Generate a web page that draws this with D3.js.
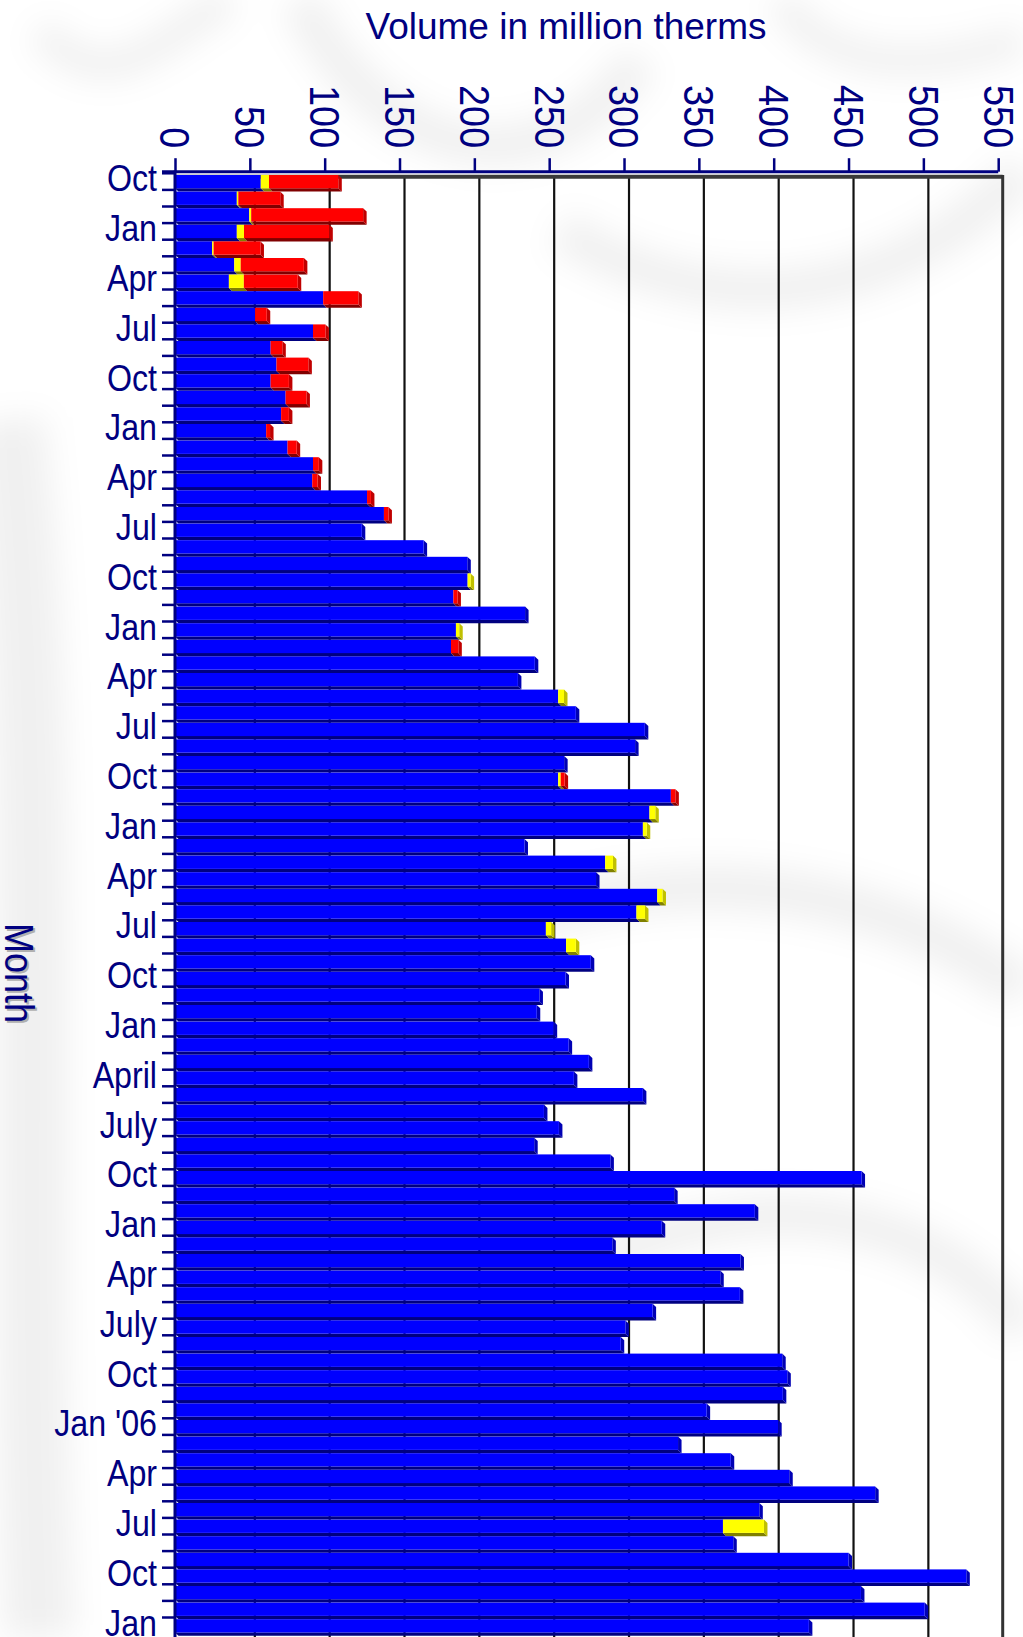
<!DOCTYPE html>
<html>
<head>
<meta charset="utf-8">
<script src="https://cdn.jsdelivr.net/npm/d3@7"></script>
<style>
  body { margin: 0; background: #fff; }
  svg { display: block; }
  text { font-family: "Liberation Sans", Arial, sans-serif; }
</style>
</head>
<body>
<div id="chart"></div>
<script>
// one label every third month, Oct 1999 .. Jan 2007
const monthLabels = ['Oct', 'Jan', 'Apr', 'Jul', 'Oct', 'Jan', 'Apr', 'Jul', 'Oct', 'Jan',
  'Apr', 'Jul', 'Oct', 'Jan', 'Apr', 'Jul', 'Oct', 'Jan', 'April', 'July',
  'Oct', 'Jan', 'Apr', 'July', 'Oct', "Jan '06", 'Apr', 'Jul', 'Oct', 'Jan']

const valueTicks = [0, 50, 100, 150, 200, 250, 300, 350, 400, 450, 500, 550]

// million therms per month
const blue = [57.3, 41.3, 49.6, 41.3, 24.8, 39.6, 36, 99, 53.5, 92.2,
  63.9, 67.8, 63.9, 73.9, 70.9, 60.9, 75.2, 92.2, 91.7, 128.3,
  139.6, 124.8, 166.1, 195.3, 195.5, 186, 233.9, 187.7, 184.4, 240.4,
  229.1, 256, 267.8, 313.9, 307.4, 260, 256, 331.3, 317, 312.6,
  233.5, 287.4, 281.3, 322.2, 308.3, 247.8, 261.3, 277.8, 260.9, 243.5,
  241.7, 253, 263, 276.5, 266.5, 312.6, 246.5, 256.5, 240, 290.9,
  458.7, 333.5, 387.4, 325.2, 292.2, 377.8, 364.3, 377.4, 319.1, 300.9,
  297.8, 405.7, 409.1, 406.1, 355.2, 403, 336.1, 371.3, 410.4, 467.8,
  390.4, 366.1, 373, 450, 528.7, 458.3, 500.9, 423.5]

const yellow = [5.5, 1, 1.3, 4.8, 1, 4.3, 10, 0, 0, 0,
  0, 0, 0, 0, 0, 0, 0, 0, 0, 0,
  0, 0, 0, 0, 2, 0, 0, 2.2, 0, 0,
  0, 3.9, 0, 0, 0, 0, 1.7, 0, 3.9, 2.6,
  0, 5.2, 0, 3.5, 5.7, 3.5, 6.5, 0, 0, 0,
  0, 0, 0, 0, 0, 0, 0, 0, 0, 0,
  0, 0, 0, 0, 0, 0, 0, 0, 0, 0,
  0, 0, 0, 0, 0, 0, 0, 0, 0, 0,
  0, 27.4, 0, 0, 0, 0, 0, 0]

const red = [46.3, 28, 74.8, 57, 31.3, 42.2, 36, 23.5, 7.8, 8.3,
  7.8, 21.3, 12.2, 13.9, 5.2, 2.6, 6.1, 3.9, 3.5, 2.6,
  3, 0, 0, 0, 0, 2.7, 0, 0, 4.9, 0,
  0, 0, 0, 0, 0, 0, 2.6, 3, 0, 0,
  0, 0, 0, 0, 0, 0, 0, 0, 0, 0,
  0, 0, 0, 0, 0, 0, 0, 0, 0, 0,
  0, 0, 0, 0, 0, 0, 0, 0, 0, 0,
  0, 0, 0, 0, 0, 0, 0, 0, 0, 0,
  0, 0, 0, 0, 0, 0, 0, 0]

const W = 1023
const H = 1637
const navy = '#000080'
const dx = 3.5
const dy = 3.3

const months = d3.timeMonth.range(new Date(1999, 9, 1), new Date(2007, 1, 1))
const rows = months.map((m, i) => ({ month: m, blue: blue[i], yellow: yellow[i], red: red[i] }))
const keys = ['blue', 'yellow', 'red']
// front, bottom, side
const shades = {
  blue: ['#0000ff', '#000080', '#0000b4'],
  yellow: ['#ffff00', '#808000', '#c0c000'],
  red: ['#ff0000', '#800000', '#c00000']
}

const x = d3.scaleLinear().domain([0, 550]).range([175, 998.2])
const y = d3.scaleBand().domain(months).range([173.3, 173.3 + months.length * 16.6])
const bw = y.bandwidth()

const svg = d3.select('#chart').append('svg')
  .attr('width', W)
  .attr('height', H)

// soft grey swirl background
const defs = svg.append('defs')
defs.append('filter').attr('id', 'blur')
  .attr('x', '-50%').attr('y', '-50%').attr('width', '200%').attr('height', '200%')
  .append('feGaussianBlur').attr('stdDeviation', 16)

svg.append('rect').attr('width', W).attr('height', H).attr('fill', '#fff')
const swirls = [
  ['M 10 420 C 50 800 20 1200 40 1637', 70],
  ['M 300 0 C 380 160 540 200 640 60', 40],
  ['M 560 230 C 720 330 900 300 1023 170', 40],
  ['M 420 960 C 640 850 860 870 1023 990', 45],
  ['M 600 1260 C 790 1170 950 1230 1023 1330', 40],
  ['M 40 30 C 110 110 170 30 230 0', 30],
  ['M 780 0 C 820 60 900 80 1023 40', 30]
]
svg.append('g').attr('filter', 'url(#blur)')
  .selectAll('path').data(swirls).enter().append('path')
    .attr('d', d => d[0])
    .attr('fill', 'none')
    .attr('stroke', '#000')
    .attr('stroke-opacity', 0.06)
    .attr('stroke-width', d => d[1])

// back wall grid lines
const wall = svg.append('g')
wall.selectAll('line').data(valueTicks.filter(v => v > 0 && v < 550)).enter().append('line')
  .attr('x1', d => x(d) + 5).attr('x2', d => x(d) + 5)
  .attr('y1', 176.7).attr('y2', H)
  .attr('stroke', '#111')
  .attr('stroke-width', 2.2)
wall.append('line')
  .attr('x1', x(0)).attr('x2', x(550) + 4.5)
  .attr('y1', 176.7).attr('y2', 176.7)
  .attr('stroke', '#3a3a3a').attr('stroke-width', 4)
wall.append('line')
  .attr('x1', x(550) + 4.5).attr('x2', x(550) + 4.5)
  .attr('y1', 175).attr('y2', H)
  .attr('stroke', '#333').attr('stroke-width', 3)

const series = d3.stack().keys(keys)(rows)

// depth faces first, then the fronts on top
const depth = svg.append('g')
const fronts = svg.append('g')

series.forEach(s => {
  const col = shades[s.key]
  const segs = s.filter(d => d[1] > d[0])

  depth.selectAll(null).data(segs).enter().append('polygon')
    .attr('fill', col[1])
    .attr('points', d => {
      const x0 = x(d[0])
      const x1 = x(d[1])
      const yb = y(d.data.month) + 1.7 + bw - dy
      return [[x0, yb], [x1, yb], [x1 + dx, yb + dy], [x0 + dx, yb + dy]].join(' ')
    })

  // side face only where this segment is the outermost one
  const last = segs.filter(d => {
    const idx = keys.indexOf(s.key)
    return keys.slice(idx + 1).every(k => d.data[k] === 0)
  })
  depth.selectAll(null).data(last).enter().append('polygon')
    .attr('fill', col[2])
    .attr('points', d => {
      const x1 = x(d[1])
      const yt = y(d.data.month) + 1.7
      const yb = yt + bw - dy
      return [[x1, yt], [x1 + dx, yt + dy], [x1 + dx, yb + dy], [x1, yb]].join(' ')
    })

  fronts.selectAll(null).data(segs).enter().append('rect')
    .attr('x', d => x(d[0]))
    .attr('y', d => y(d.data.month) + 1.7)
    .attr('width', d => x(d[1]) - x(d[0]))
    .attr('height', bw - dy)
    .attr('fill', col[0])
})

// top value axis
const xAxis = svg.append('g')
  .attr('transform', 'translate(0,171.7)')
  .call(d3.axisTop(x).tickValues(valueTicks).tickSize(13.5).tickSizeOuter(0))
xAxis.select('.domain').remove()
xAxis.selectAll('line').attr('stroke', navy).attr('stroke-width', 2.5)
xAxis.selectAll('text')
  .attr('x', 0).attr('y', 0)
  .attr('dy', '0.35em')
  .attr('text-anchor', 'end')
  .attr('transform', 'translate(0,-23.5) rotate(90) scale(0.88,1)')
  .attr('fill', navy)
  .style('font-size', '43px')
svg.append('line')
  .attr('x1', 162).attr('x2', x(550))
  .attr('y1', 171.7).attr('y2', 171.7)
  .attr('stroke', navy).attr('stroke-width', 3)

// month axis
const labelOf = new Map(months.filter((m, i) => i % 3 === 0).map((m, i) => [+m, monthLabels[i]]))
const yAxis = svg.append('g')
  .attr('transform', 'translate(175,-2)')
  .call(d3.axisLeft(y)
    .tickValues(months.filter((m, i) => i % 3 === 0))
    .tickFormat(m => labelOf.get(+m))
    .tickSize(0)
    .tickPadding(18))
yAxis.select('.domain').remove()
yAxis.selectAll('text')
  .attr('x', -18 / 0.87)
  .attr('transform', 'scale(0.87,1)')
  .attr('fill', navy)
  .style('font-size', '37px')

svg.append('g').selectAll('line').data(months).enter().append('line')
  .attr('x1', 162).attr('x2', 175)
  .attr('y1', d => y(d)).attr('y2', d => y(d))
  .attr('stroke', navy).attr('stroke-width', 2.5)
svg.append('line')
  .attr('x1', 175).attr('x2', 175)
  .attr('y1', 170.5).attr('y2', H)
  .attr('stroke', navy).attr('stroke-width', 3)

// titles
svg.append('text')
  .attr('x', 566).attr('y', 39)
  .attr('text-anchor', 'middle')
  .attr('fill', navy)
  .style('font-size', '37px')
  .text('Volume in million therms')

svg.append('text')
  .attr('transform', 'translate(21,975) rotate(90) scale(0.9,1)')
  .attr('text-anchor', 'middle')
  .attr('dy', '0.35em')
  .attr('fill', '#b0b0b0')
  .style('font-size', '40px')
  .text('Month')
svg.append('text')
  .attr('transform', 'translate(19,973) rotate(90) scale(0.9,1)')
  .attr('text-anchor', 'middle')
  .attr('dy', '0.35em')
  .attr('fill', navy)
  .style('font-size', '40px')
  .text('Month')
</script>
</body>
</html>
